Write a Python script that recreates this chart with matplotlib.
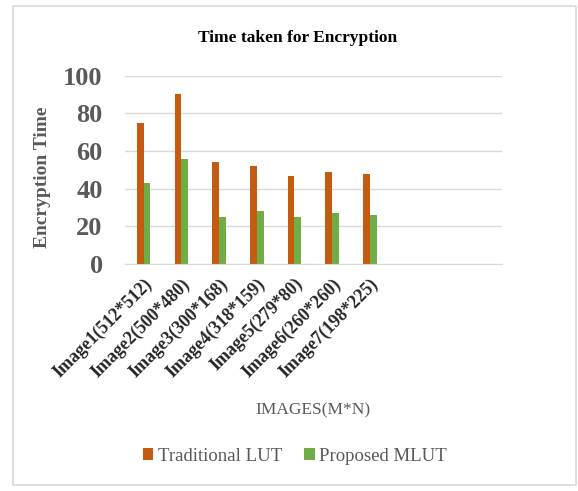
import matplotlib.pyplot as plt
from matplotlib.patches import Rectangle
import numpy as np

images = ['Image1(512*512)', 'Image2(500*480)', 'Image3(300*168)', 'Image4(318*159)',
          'Image5(279*80)', 'Image6(260*260)', 'Image7(198*225)']
traditional_lut = [75, 90.5, 54, 52, 47, 49, 48]
proposed_mlut = [43, 56, 25, 28, 25, 27, 26]
n_slots = 10

plt.rcParams['font.family'] = ['Liberation Serif', 'DejaVu Serif']

fig = plt.figure(figsize=(5.78, 4.91), dpi=100)
fig.patches.append(Rectangle((0.022, 0.012), 0.974, 0.976, transform=fig.transFigure,
                             fill=False, edgecolor='#d9d9d9', linewidth=1.2))

ax = fig.add_axes([0.216, 0.462, 0.652, 0.384])
x = np.arange(len(images))
w = 0.18
ax.bar(x - w / 2, traditional_lut, w, color='#C55A11', label='Traditional LUT')
ax.bar(x + w / 2, proposed_mlut, w, color='#70AD47', label='Proposed MLUT')

ax.set_xlim(-0.5, n_slots - 0.5)
ax.set_ylim(0, 100)
ax.set_yticks(range(0, 101, 20))
ax.yaxis.grid(True, color='#d9d9d9', linewidth=1)
ax.set_axisbelow(True)
for s in ['top', 'right', 'left']:
    ax.spines[s].set_visible(False)
ax.spines['bottom'].set_color('#d9d9d9')
ax.tick_params(length=0)
ax.tick_params(axis='y', labelsize=19, labelcolor='#595959', pad=16)
for t in ax.get_yticklabels():
    t.set_fontweight('bold')

ax.set_xticks(x)
ax.set_xticklabels(images, rotation=45, ha='right', rotation_mode='anchor',
                   fontsize=13, fontweight='bold', color='#262626')
ax.tick_params(axis='x', pad=8)

fig.text(0.515, 0.922, 'Time taken for Encryption', ha='center', va='center',
         fontsize=12.5, fontweight='bold')
fig.text(0.073, 0.64, 'Encryption Time', rotation=90, ha='center', va='center',
         fontsize=14, fontweight='bold', color='#595959')
fig.text(0.542, 0.165, 'IMAGES(M*N)', ha='center', va='center',
         fontsize=12.5, color='#595959')

fig.legend(loc='center', bbox_to_anchor=(0.51, 0.071), ncol=2, frameon=False,
           fontsize=13.5, handlelength=0.55, handleheight=0.55, handletextpad=0.25,
           columnspacing=1.2, labelcolor='#595959')

fig.savefig('out.png', dpi=100)
